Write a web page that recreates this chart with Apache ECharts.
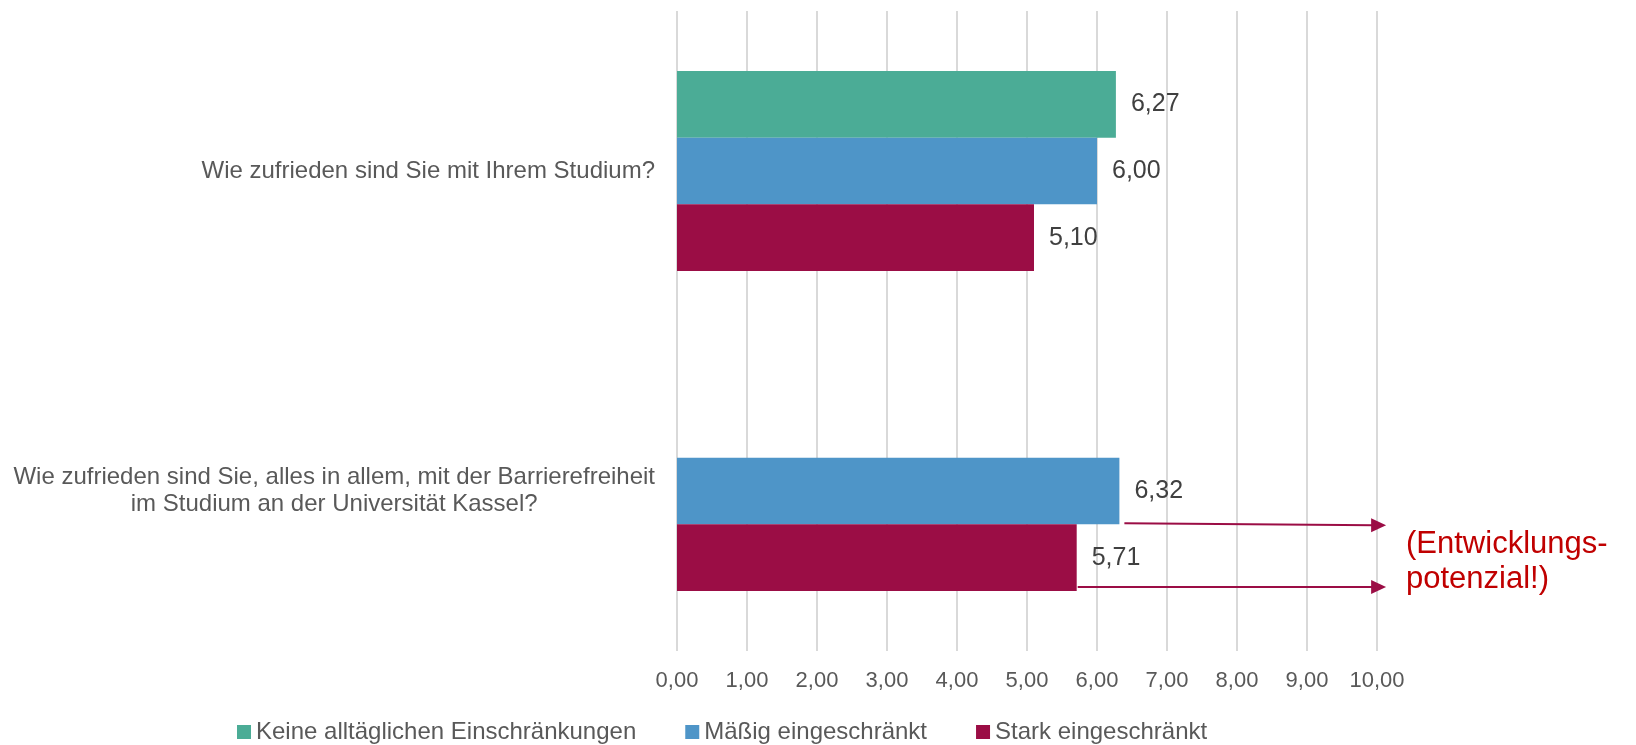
<!DOCTYPE html>
<html>
<head>
<meta charset="utf-8">
<script src="https://cdn.jsdelivr.net/npm/echarts@6/dist/echarts.min.js"></script>
<style>
html,body{margin:0;padding:0;background:#fff;}
#chart{width:1636px;height:745px;}
</style>
</head>
<body>
<div id="chart"></div>
<script>
const categories = [
  'Wie zufrieden sind Sie mit Ihrem Studium?',
  'Wie zufrieden sind Sie, alles in allem, mit der Barrierefreiheit\nim Studium an der Universität Kassel?'
];
const seriesNames = ['Keine alltäglichen Einschränkungen', 'Mäßig eingeschränkt', 'Stark eingeschränkt'];
const keineValues = [6.27, null];
const maessigValues = [6.00, 6.32];
const starkValues = [5.10, 5.71];
const axisMin = 0, axisMax = 10, axisStep = 1;
const annotationText = '(Entwicklungs-\npotenzial!)';
const arrowEndValue = 10.13;

const colors = ['#4BAC96', '#4E95C8', '#9B0D45'];
const FONT = '"Liberation Sans", Arial, sans-serif';
const fmt = v => v.toFixed(2).replace('.', ',');

const chart = echarts.init(document.getElementById('chart'), null, {renderer: 'canvas'});

function barSeries(name, data, color) {
  return {
    name, type: 'bar', data,
    barGap: '0%', barCategoryGap: '37.5%',
    itemStyle: {color},
    label: {
      show: true, position: 'right', distance: 15,
      formatter: p => fmt(p.value),
      fontFamily: FONT, fontSize: 25, color: '#404040'
    }
  };
}

chart.setOption({
  animation: false,
  backgroundColor: '#fff',
  textStyle: {fontFamily: FONT},
  grid: {left: 677, right: 259, top: 11, bottom: 94, containLabel: false},
  legend: {
    data: seriesNames,
    left: 237, top: 720, padding: 0,
    itemWidth: 14, itemHeight: 14, itemGap: 49, icon: 'rect',
    textStyle: {fontFamily: FONT, fontSize: 24, color: '#595959'}
  },
  xAxis: {
    type: 'value', min: axisMin, max: axisMax, interval: axisStep,
    axisLine: {show: false}, axisTick: {show: false},
    splitLine: {show: true, lineStyle: {color: '#d9d9d9', width: 2}},
    axisLabel: {formatter: fmt, fontFamily: FONT, fontSize: 22, color: '#595959', margin: 19}
  },
  yAxis: {
    type: 'category', data: categories, inverse: true,
    axisLine: {show: false}, axisTick: {show: false},
    axisLabel: {
      margin: 22, fontFamily: FONT, fontSize: 24, color: '#595959',
      formatter: v => v.split('\n').map(s => '{c|' + s + '}').join('\n'),
      rich: {c: {align: 'center', fontFamily: FONT, fontSize: 24, color: '#595959', lineHeight: 27}}
    }
  },
  series: [
    barSeries(seriesNames[0], keineValues, colors[0]),
    barSeries(seriesNames[1], maessigValues, colors[1]),
    barSeries(seriesNames[2], starkValues, colors[2])
  ]
});

function layoutOf(si, di) {
  try {
    const l = chart.getModel().getSeriesByIndex(si).getData().getItemLayout(di);
    if (l) return l;
  } catch (e) {}
  return null;
}

function arrow(si, di, startPad, yInset, slope) {
  const l = layoutOf(si, di);
  if (!l) return [];
  const x0 = l.x + l.width + startPad;
  const yBottom = Math.max(l.y, l.y + l.height);
  const y = yBottom - yInset;
  const y2 = y + slope;
  const xTip = chart.convertToPixel({xAxisIndex: 0}, arrowEndValue);
  const c = colors[2];
  return [
    {type: 'line', shape: {x1: x0, y1: y, x2: xTip - 12, y2: y2}, style: {stroke: c, lineWidth: 2}, silent: true},
    {type: 'polygon', shape: {points: [[xTip, y2], [xTip - 15, y2 - 7], [xTip - 15, y2 + 7]]}, style: {fill: c}, silent: true}
  ];
}

const redLayout = layoutOf(2, 1);
const textX = chart.convertToPixel({xAxisIndex: 0}, axisMax) + 29;
const textY = redLayout ? Math.min(redLayout.y, redLayout.y + redLayout.height) + 3 : 527;

chart.setOption({
  graphic: [
    ...arrow(1, 1, 5, 1, 2),
    ...arrow(2, 1, 1, 4, 0),
    {
      type: 'text', x: textX, y: textY, silent: true,
      style: {text: annotationText, fill: '#C00000', fontFamily: FONT, fontSize: 31, lineHeight: 35,
              align: 'left', verticalAlign: 'top'}
    }
  ]
});
</script>
</body>
</html>
